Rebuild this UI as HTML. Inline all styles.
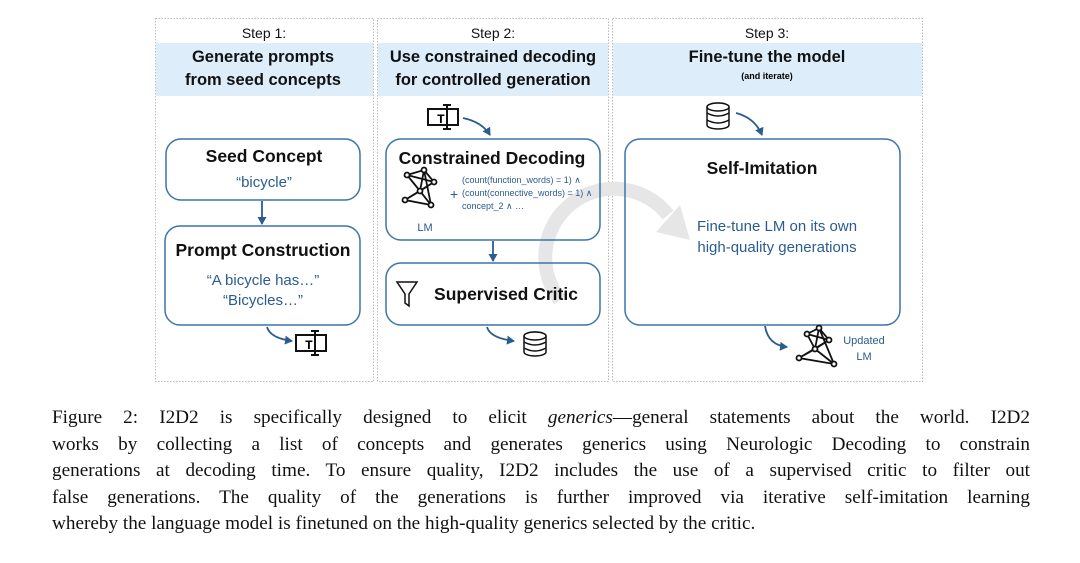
<!DOCTYPE html>
<html><head><meta charset="utf-8"><style>
body{margin:0;background:#fff;width:1080px;height:563px;overflow:hidden;position:relative}
.cap{position:absolute;left:52px;width:978px;font-family:"Liberation Serif",serif;font-size:19.2px;line-height:26.5px;text-align:justify;color:#111;top:405px}
.cap span.l{display:block;text-align-last:justify}
</style></head><body>
<svg width="1080" height="400" style="position:absolute;left:0;top:0" font-family="Liberation Sans, sans-serif">
<defs><marker id="a" markerUnits="userSpaceOnUse" markerWidth="10" markerHeight="10" refX="7" refY="4.5" orient="auto"><path d="M0,0 L8,4.5 L0,9 z" fill="#2a5c8f"/></marker></defs>
<g fill="none" stroke="#bbb" stroke-dasharray="1.5,1.5">
<rect x="155.5" y="18.5" width="218" height="363"/>
<rect x="377.5" y="18.5" width="231" height="363"/>
<rect x="612.5" y="18.5" width="310" height="363"/>
</g>
<rect x="156" y="43" width="217" height="53" fill="#ddeefa"/>
<rect x="378" y="43" width="230" height="53" fill="#ddeefa"/>
<rect x="613" y="43" width="309" height="53" fill="#ddeefa"/>
<g font-size="14" text-anchor="middle" fill="#111">
<text x="264" y="38">Step 1:</text><text x="493" y="38">Step 2:</text><text x="767" y="38">Step 3:</text>
</g>
<g font-size="16.5" font-weight="bold" text-anchor="middle" fill="#111">
<text x="263" y="62">Generate prompts</text><text x="263" y="85">from seed concepts</text>
<text x="493" y="62">Use constrained decoding</text><text x="493" y="85">for controlled generation</text>
<text x="767" y="62">Fine-tune the model</text>
</g>
<text x="767" y="79" font-size="9" font-weight="bold" text-anchor="middle">(and iterate)</text>
<!-- gray cycle arrow -->
<path d="M560,300 A65,65 0 1 1 668,215" fill="none" stroke="#e6e6e6" stroke-width="14"/>
<path d="M656,232 L680,205 L690,240 z" fill="#e6e6e6"/>
<g fill="none" stroke="#3a74b0" stroke-width="1.5">
<rect x="166" y="139" width="194" height="61" rx="15"/>
<rect x="165" y="226" width="195" height="99" rx="15"/>
<rect x="386" y="139" width="214" height="101" rx="15"/>
<rect x="386" y="263" width="214" height="62" rx="15"/>
<rect x="625" y="139" width="275" height="186" rx="15"/>
</g>
<g font-weight="bold" font-size="17.5" text-anchor="middle" fill="#111">
<text x="264" y="162">Seed Concept</text>
<text x="263" y="256">Prompt Construction</text>
<text x="492" y="164">Constrained Decoding</text>
<text x="506" y="300">Supervised Critic</text>
<text x="762" y="174">Self-Imitation</text>
</g>
<g fill="#2a5c8f" text-anchor="middle" font-size="15">
<text x="264" y="187">“bicycle”</text>
<text x="263" y="285">“A bicycle has…”</text>
<text x="263" y="305">“Bicycles…”</text>
<text x="777" y="231">Fine-tune LM on its own</text>
<text x="777" y="252">high-quality generations</text>
<text x="425" y="231" font-size="11">LM</text>
<text x="864" y="344" font-size="11">Updated</text>
<text x="864" y="360" font-size="11">LM</text>
</g>
<g fill="#2a5c8f" font-size="9">
<text x="462" y="183">(count(function_words) = 1) ∧</text>
<text x="462" y="196">(count(connective_words) = 1) ∧</text>
<text x="462" y="209">concept_2 ∧ …</text>
<text x="450" y="199" font-size="14">+</text>
</g>
<g stroke="#2a5c8f" stroke-width="1.8" fill="none" marker-end="url(#a)">
<path d="M262,201 L262,224"/>
<path d="M493,241 L493,261"/>
<path d="M267,327 Q270,338 292,341"/>
<path d="M487,327 Q490,338 514,341"/>
<path d="M463,118 Q482,122 490,135"/>
<path d="M736,113 Q755,118 762,135"/>
<path d="M765,326 Q768,345 787,347"/>
</g>
<!-- T icons -->
<g stroke="#111" stroke-width="2" fill="none">
<rect x="296" y="335" width="30" height="16"/><line x1="315" y1="331" x2="315" y2="355"/><line x1="311" y1="331" x2="319" y2="331"/><line x1="311" y1="355" x2="319" y2="355"/>
<rect x="428" y="109" width="30" height="16"/><line x1="447" y1="105" x2="447" y2="129"/><line x1="443" y1="105" x2="451" y2="105"/><line x1="443" y1="129" x2="451" y2="129"/>
</g>
<text x="305" y="349" font-family="Liberation Mono" font-weight="bold" font-size="13">T</text>
<text x="437" y="123" font-family="Liberation Mono" font-weight="bold" font-size="13">T</text>
<!-- DB icons -->
<g stroke="#111" stroke-width="1.5" fill="#fff">
<g transform="translate(524,332)"><rect x="0" y="0" width="22" height="24" rx="11" ry="4"/><ellipse cx="11" cy="4" rx="11" ry="4"/><path d="M0,10 Q11,16 22,10 M0,16 Q11,22 22,16" fill="none"/></g>
<g transform="translate(707,103)"><rect x="0" y="0" width="22" height="26" rx="11" ry="4"/><ellipse cx="11" cy="4" rx="11" ry="4"/><path d="M0,10 Q11,16 22,10 M0,17 Q11,23 22,17" fill="none"/></g>
</g>
<!-- funnel -->
<path d="M397,282 L417,282 L409,294 L409,306 L405,303 L405,294 z" fill="none" stroke="#111" stroke-width="1.5"/>
<!-- networks -->
<g stroke="#111" stroke-width="1.8" fill="#fff">
<g transform="translate(403,170)"><path d="M4,5 L21,0 L31,12 L17,21 L2,30 L28,35 L21,0 M4,5 L17,21 L28,35 M4,5 L31,12 L2,30 M21,0 L17,21" fill="none"/><circle cx="4" cy="5" r="2.5"/><circle cx="21" cy="0" r="2.5"/><circle cx="31" cy="12" r="2.5"/><circle cx="17" cy="21" r="2.5"/><circle cx="2" cy="30" r="2.5"/><circle cx="28" cy="35" r="2.5"/></g>
<g transform="translate(799,328)"><path d="M8,6 L20,0 L30,12 L16,21 L0,30 L35,36 L20,0 M8,6 L16,21 L35,36 M8,6 L30,12 L0,30 M20,0 L16,21" fill="none"/><circle cx="8" cy="6" r="2.5"/><circle cx="20" cy="0" r="2.5"/><circle cx="30" cy="12" r="2.5"/><circle cx="16" cy="21" r="2.5"/><circle cx="0" cy="30" r="2.5"/><circle cx="35" cy="36" r="2.5"/></g>
</g>
</svg>
<div class="cap">
<span class="l">Figure 2: I2D2 is specifically designed to elicit <i>generics</i>—general statements about the world. I2D2</span>
<span class="l">works by collecting a list of concepts and generates generics using Neurologic Decoding to constrain</span>
<span class="l">generations at decoding time. To ensure quality, I2D2 includes the use of a supervised critic to filter out</span>
<span class="l">false generations. The quality of the generations is further improved via iterative self-imitation learning</span>
<span>whereby the language model is finetuned on the high-quality generics selected by the critic.</span>
</div>
</body></html>
